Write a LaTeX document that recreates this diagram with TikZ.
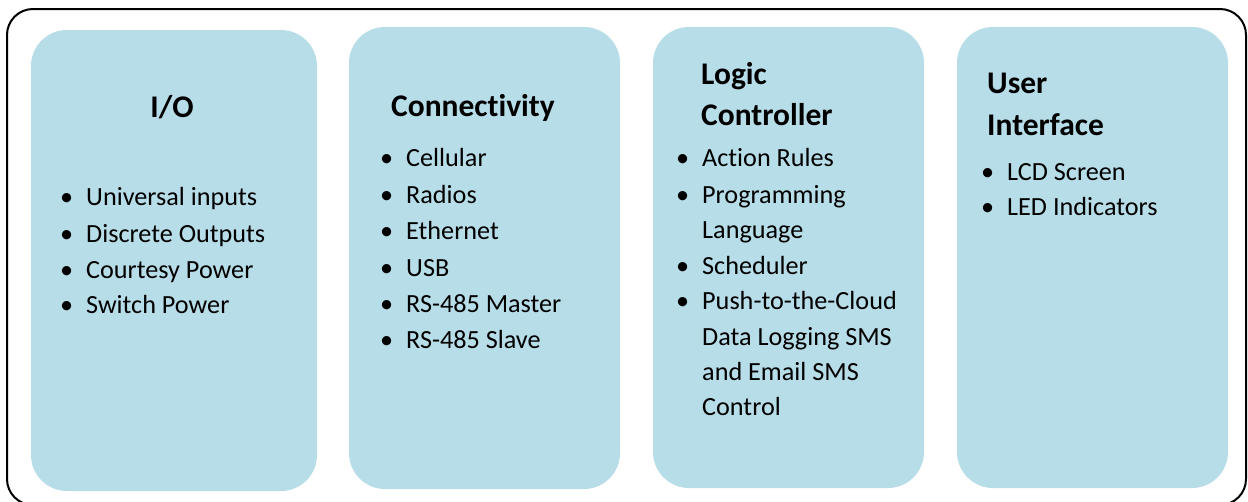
\documentclass[tikz,border=0pt]{standalone}
\usepackage{fontspec}
\setmainfont{Carlito}[Ligatures=NoCommon]
\definecolor{boxblue}{HTML}{B7DDE8}
\newcommand{\bul}{\llap{\textbullet\hspace{13pt}}}
\begin{document}
\begin{tikzpicture}[x=1pt,y=-1pt,
  outer/.style={draw=black,line width=2pt,rounded corners=26pt},
  panel/.style={fill=boxblue,rounded corners=36pt},
  head/.style={anchor=base west,inner sep=0pt,font=\fontsize{31.5}{36}\selectfont\bfseries},
  item/.style={anchor=base west,inner sep=0pt,font=\fontsize{26.2}{30}\selectfont}]
\useasboundingbox (0,0) rectangle (1248,501);
\draw[outer] (7,9) rectangle (1246,505);
% panels
\path[panel] (31,30) rectangle (317,491);
\path[panel] (349,27) rectangle (620,489);
\path[panel] (653,27) rectangle (924,488);
\path[panel] (957,27) rectangle (1228,488);
% I/O
\node[head,anchor=base] (h1) at (172,117) {I/O};
\node[item] (a1) at (86,205) {\bul Universal inputs};
\node[item] (a2) at (86,242) {\bul Discrete Outputs};
\node[item] (a3) at (86,278) {\bul Courtesy Power};
\node[item] (a4) at (86,313) {\bul Switch Power};
% Connectivity
\node[head] (h2) at (391,116) {Connectivity};
\node[item] (b1) at (406,166) {\bul Cellular};
\node[item] (b2) at (406,203) {\bul Radios};
\node[item] (b3) at (406,239) {\bul Ethernet};
\node[item] (b4) at (406,276) {\bul USB};
\node[item] (b5) at (406,312) {\bul RS-485 Master};
\node[item] (b6) at (406,348) {\bul RS-485 Slave};
% Logic Controller
\node[head] (h3a) at (701,84) {Logic};
\node[head] (h3b) at (701,125) {Controller};
\node[item] (c1) at (702,166) {\bul Action Rules};
\node[item] (c2) at (702,203) {\bul Programming};
\node[item] (c3) at (702,238) {Language};
\node[item] (c4) at (702,274) {\bul Scheduler};
\node[item] (c5) at (702,309) {\bul Push-to-the-Cloud};
\node[item] (c6) at (702,345) {Data Logging SMS};
\node[item] (c7) at (702,380) {and Email SMS};
\node[item] (c8) at (702,415) {Control};
% User Interface
\node[head] (h4a) at (987,93) {User};
\node[head] (h4b) at (987,135) {Interface};
\node[item] (d1) at (1007,180) {\bul LCD Screen};
\node[item] (d2) at (1007,215) {\bul LED Indicators};
\end{tikzpicture}
\end{document}
